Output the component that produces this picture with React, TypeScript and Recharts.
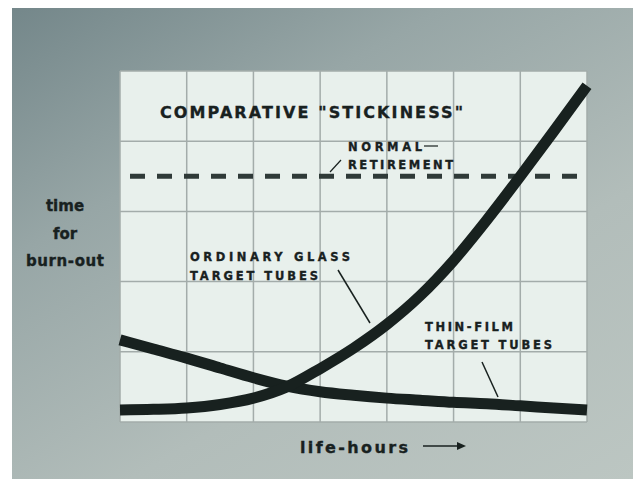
import React from "react";
import {
  ComposedChart,
  Line,
  XAxis,
  YAxis,
  CartesianGrid,
  ReferenceLine,
  Customized,
} from "recharts";

// life-hours in grid units, burn-out time in grid units
const hours = [0, 0.5, 1, 1.5, 2, 2.5, 3, 3.5, 4, 4.5, 5, 5.5, 6, 6.5, 7];
const glassTubes = [0.17, 0.18, 0.2, 0.25, 0.34, 0.5, 0.76, 1.05, 1.39, 1.8, 2.3, 2.88, 3.5, 4.14, 4.79];
const thinFilmTubes = [1.17, 1.04, 0.91, 0.77, 0.63, 0.51, 0.43, 0.38, 0.34, 0.31, 0.28, 0.26, 0.23, 0.2, 0.17];
const retirement = 3.5;
const xGrid = [1, 2, 3, 4, 5, 6];
const yGrid = [1, 2, 3, 4];

const data = hours.map((h, i) => ({
  h,
  glass: glassTubes[i],
  film: thinFilmTubes[i],
}));

const ink = "#18211f";
const font = "'DejaVu Sans', sans-serif";

function Annotations() {
  const t = {
    fill: ink,
    stroke: ink,
    strokeWidth: 0.35,
    fontFamily: font,
    fontWeight: 700,
  } as const;
  return (
    <g>
      <text x={160} y={118} fontSize={16} textLength={303} lengthAdjust="spacing" {...t}>
        COMPARATIVE "STICKINESS"
      </text>
      <text x={348} y={151} fontSize={11.5} textLength={74} lengthAdjust="spacing" {...t}>
        NORMAL
      </text>
      <line x1={424} y1={146} x2={438} y2={146} stroke={ink} strokeWidth={1.2} />
      <text x={348} y={169} fontSize={11.5} textLength={105} lengthAdjust="spacing" {...t}>
        RETIREMENT
      </text>
      <line x1={330} y1={172} x2={341} y2={160} stroke={ink} strokeWidth={1.2} />

      <text x={190} y={261} fontSize={11.5} textLength={160} lengthAdjust="spacing" {...t}>
        ORDINARY GLASS
      </text>
      <text x={190} y={280} fontSize={11.5} textLength={128} lengthAdjust="spacing" {...t}>
        TARGET TUBES
      </text>
      <line x1={338} y1={270} x2={370} y2={323} stroke={ink} strokeWidth={1.5} />

      <text x={425} y={331} fontSize={11.5} textLength={88} lengthAdjust="spacing" {...t}>
        THIN-FILM
      </text>
      <text x={425} y={349} fontSize={11.5} textLength={127} lengthAdjust="spacing" {...t}>
        TARGET TUBES
      </text>
      <line x1={482} y1={362} x2={498} y2={397} stroke={ink} strokeWidth={1.5} />

      <text x={65} y={211} fontSize={15} textAnchor="middle" {...t}>time</text>
      <text x={65} y={239} fontSize={15} textAnchor="middle" {...t}>for</text>
      <text x={65} y={266} fontSize={15} textAnchor="middle" textLength={78} lengthAdjust="spacing" {...t}>
        burn-out
      </text>

      <text x={300} y={453} fontSize={16} textLength={108} lengthAdjust="spacing" {...t}>
        life-hours
      </text>
      <line x1={423} y1={446} x2={460} y2={446} stroke={ink} strokeWidth={1.5} />
      <path d="M457,442 L466,446 L457,450 Z" fill={ink} />
    </g>
  );
}

export default function App() {
  return (
    <div
      style={{
        position: "absolute",
        left: 0,
        top: 0,
        width: 633,
        height: 479,
        background: "#ffffff",
        overflow: "hidden",
      }}
    >
      <div
        style={{
          position: "absolute",
          left: 12,
          top: 8,
          right: 0,
          bottom: 0,
          background: "linear-gradient(150deg, #74878a 0%, #97a6a6 30%, #b2bdba 65%, #bcc6c2 100%)",
        }}
      />
      <div style={{ position: "absolute", left: 0, top: 0 }}>
        <ComposedChart
          width={633}
          height={479}
          data={data}
          margin={{ top: 71, right: 46, bottom: 57, left: 120 }}
        >
          <CartesianGrid stroke="#a3acaa" strokeWidth={1.5} fill="#e8f0ec" fillOpacity={1} />
          <XAxis dataKey="h" type="number" domain={[0, 7]} ticks={xGrid} hide />
          <YAxis type="number" domain={[0, 5]} ticks={yGrid} hide />
          <ReferenceLine
            segment={[
              { x: 0.15, y: retirement },
              { x: 6.9, y: retirement },
            ]}
            stroke="#2f3a38"
            strokeWidth={5}
            strokeDasharray="15 12"
          />
          <Line
            dataKey="film"
            type="monotone"
            stroke={ink}
            strokeWidth={11}
            dot={false}
            activeDot={false}
            isAnimationActive={false}
          />
          <Line
            dataKey="glass"
            type="monotone"
            stroke={ink}
            strokeWidth={11}
            dot={false}
            activeDot={false}
            isAnimationActive={false}
          />
          <Customized component={Annotations} />
        </ComposedChart>
      </div>
    </div>
  );
}
